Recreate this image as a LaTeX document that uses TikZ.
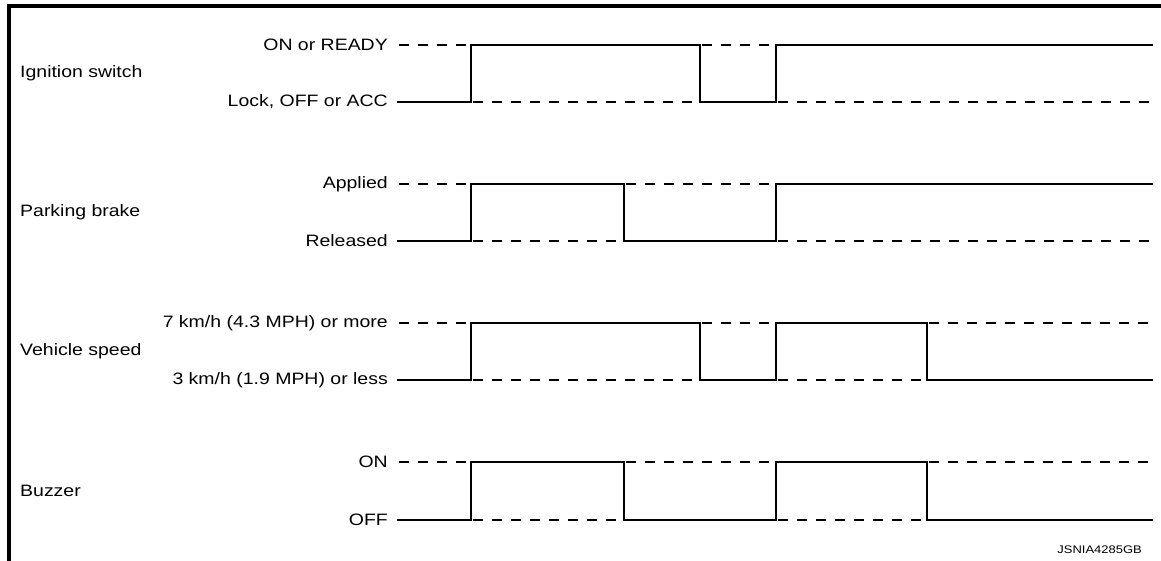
\documentclass[tikz,border=0pt]{standalone}
\usepackage{fontspec}
\setmainfont[FakeStretch=1.18]{Liberation Sans}
\begin{document}
\begin{tikzpicture}[x=1pt,y=-1pt,
  sig/.style={line width=2.8pt, line join=miter},
  dsh/.style={line width=2.8pt, dash pattern=on 10pt off 9pt, dash phase=-2pt},
  lvl/.style={anchor=east, inner sep=0pt, font=\fontsize{16.5}{19}\selectfont},
  sname/.style={anchor=west, inner sep=0pt, font=\fontsize{16.5}{19}\selectfont},
]
\useasboundingbox (0,0) rectangle (1161,561);
\draw[line width=3.5pt] (9,561) -- (9,6) -- (1161,6);

% Ignition switch
\node[sname] (ig) at (20,73.5) {Ignition switch};
\node[lvl] (igh) at (388,45) {ON or READY};
\node[lvl] (igl) at (388,102) {Lock, OFF or ACC};
\draw[sig] (397,102) -- (471,102) -- (471,45) -- (700,45) -- (700,102) -- (776,102) -- (776,45) -- (1153,45);
\draw[dsh] (397,45) -- (471,45);
\draw[dsh] (471,102) -- (700,102);
\draw[dsh] (700,45) -- (776,45);
\draw[dsh] (776,102) -- (1153,102);

% Parking brake
\node[sname] (pb) at (20,212.5) {Parking brake};
\node[lvl] (pbh) at (388,184) {Applied};
\node[lvl] (pbl) at (388,241) {Released};
\draw[sig] (397,241) -- (471,241) -- (471,184) -- (624,184) -- (624,241) -- (776,241) -- (776,184) -- (1153,184);
\draw[dsh] (397,184) -- (471,184);
\draw[dsh] (471,241) -- (624,241);
\draw[dsh] (624,184) -- (776,184);
\draw[dsh] (776,241) -- (1153,241);

% Vehicle speed
\node[sname] (vs) at (20,351.5) {Vehicle speed};
\node[lvl] (vsh) at (388,323) {7 km/h (4.3 MPH) or more};
\node[lvl] (vsl) at (388,380) {3 km/h (1.9 MPH) or less};
\draw[sig] (397,380) -- (471,380) -- (471,323) -- (700,323) -- (700,380) -- (776,380) -- (776,323) -- (927,323) -- (927,380) -- (1153,380);
\draw[dsh] (397,323) -- (471,323);
\draw[dsh] (471,380) -- (700,380);
\draw[dsh] (700,323) -- (776,323);
\draw[dsh] (776,380) -- (927,380);
\draw[dsh] (927,323) -- (1153,323);

% Buzzer
\node[sname] (bz) at (20,491) {Buzzer};
\node[lvl] (bzh) at (388,462) {ON};
\node[lvl] (bzl) at (388,520) {OFF};
\draw[sig] (397,520) -- (471,520) -- (471,462) -- (624,462) -- (624,520) -- (776,520) -- (776,462) -- (927,462) -- (927,520) -- (1153,520);
\draw[dsh] (397,462) -- (471,462);
\draw[dsh] (471,520) -- (624,520);
\draw[dsh] (624,462) -- (776,462);
\draw[dsh] (776,520) -- (927,520);
\draw[dsh] (927,462) -- (1153,462);

\node[anchor=east, inner sep=0pt, font=\fontsize{11}{13}\selectfont] (id) at (1142,550) {JSNIA4285GB};
\end{tikzpicture}
\end{document}
